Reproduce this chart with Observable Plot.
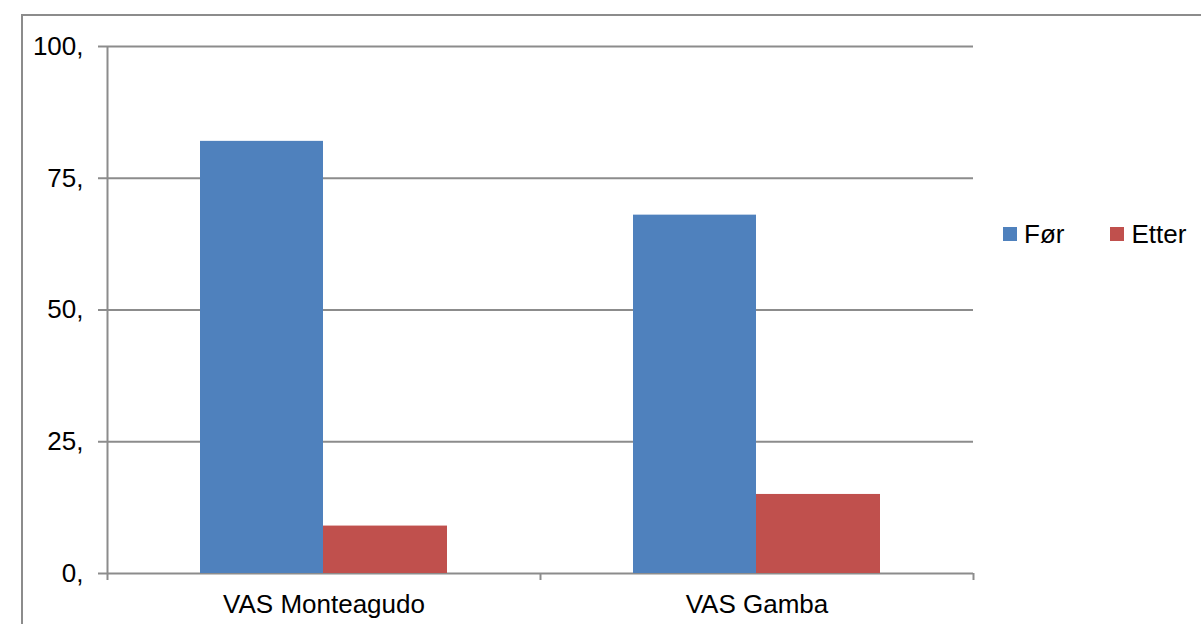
<!DOCTYPE html>
<html>
<head>
<meta charset="utf-8">
<script src="https://cdn.jsdelivr.net/npm/d3@7"></script>
<script src="https://cdn.jsdelivr.net/npm/@observablehq/plot@0.6"></script>
<style>
  html, body { margin: 0; padding: 0; background: #fff; overflow: hidden; }
  #wrap { position: relative; width: 1201px; height: 624px; font-family: "Liberation Sans", Arial, sans-serif; }
  #border { position: absolute; left: 21px; top: 14px; width: 1400px; height: 800px;
            border-left: 2px solid #8c8c8c; border-top: 2px solid #8c8c8c; pointer-events: none; }
  #chart { position: absolute; left: 0; top: 0; }
  #legend { position: absolute; left: 1003px; top: 219px; display: flex; align-items: center;
            font-size: 26px; color: #000; line-height: 30px; }
  .item { display: flex; align-items: center; }
  .sw { width: 14px; height: 14px; margin-right: 7px; }
</style>
</head>
<body>
<div id="wrap">
  <div id="border"></div>
  <div id="chart"></div>
  <div id="legend"></div>
</div>
<script>
const categories = ["VAS Monteagudo", "VAS Gamba"];
const series = ["Før", "Etter"];
const forValues = [82, 68];
const etterValues = [9, 15];
const yTicks = [0, 25, 50, 75, 100];
const colors = ["#4F81BD", "#C0504D"];

const lineColor = "#8c8c8c";

const forData = categories.map((c, i) => ({category: c, series: series[0], value: forValues[i]}));
const etterData = categories.map((c, i) => ({category: c, series: series[1], value: etterValues[i]}));

const chart = Plot.plot({
  width: 1201,
  height: 624,
  marginLeft: 107,
  marginRight: 228,
  marginTop: 46,
  marginBottom: 51,
  style: {fontFamily: '"Liberation Sans", Arial, sans-serif', fontSize: "26px", color: "#000", background: "transparent"},
  x: {domain: categories, padding: 0, label: null},
  y: {domain: [0, 100], label: null},
  color: {domain: series, range: colors},
  marks: [
    Plot.gridY(yTicks, {stroke: lineColor, strokeOpacity: 1, strokeWidth: 2}),
    Plot.barY(forData, {x: "category", y: "value", fill: "series", insetLeft: 93, insetRight: 217}),
    Plot.barY(etterData, {x: "category", y: "value", fill: "series", insetLeft: 216, insetRight: 93}),
    Plot.ruleX([categories[0]], {x: d => d, dx: -216.5, insetBottom: -7, stroke: lineColor, strokeWidth: 2}),
    Plot.ruleX([categories[1]], {x: d => d, y1: 0, y2: 0, dx: -216.5, insetBottom: -7, stroke: lineColor, strokeWidth: 2}),
    Plot.ruleX([categories[1]], {x: d => d, y1: 0, y2: 0, dx: 216.5, insetBottom: -7, stroke: lineColor, strokeWidth: 2}),
    Plot.axisY(yTicks, {tickFormat: d => d + ",", tickSize: 9, tickPadding: 15, stroke: lineColor, strokeWidth: 2, fill: "#000", fontSize: 26, label: null}),
    Plot.axisX({tickSize: 0, tickPadding: 21, fontSize: 26, fill: "#000", label: null})
  ]
});
document.getElementById("chart").appendChild(chart);

const legend = document.getElementById("legend");
series.forEach((s, i) => {
  const item = document.createElement("div");
  item.className = "item";
  if (i > 0) item.style.marginLeft = "46px";
  const sw = document.createElement("div");
  sw.className = "sw";
  sw.style.background = colors[i];
  const t = document.createElement("span");
  t.textContent = s;
  item.appendChild(sw);
  item.appendChild(t);
  legend.appendChild(item);
});
</script>
</body>
</html>
